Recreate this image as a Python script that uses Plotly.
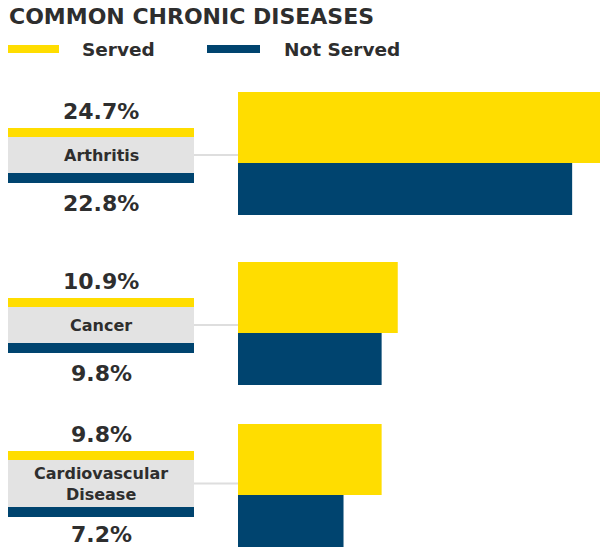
import plotly.graph_objects as go

# ---- data ----
categories = ["Arthritis", "Cancer", "Cardiovascular<br>Disease"]
served = [24.7, 10.9, 9.8]
not_served = [22.8, 9.8, 7.2]
series_names = ["Served", "Not Served"]
title_text = "COMMON CHRONIC DISEASES"

# ---- style / layout constants ----
W, H = 600, 548
YELLOW = "#FFDD00"
NAVY = "#00446F"
GRAY_BOX = "#E3E3E3"
LINE_GRAY = "#DEDEDE"
TEXT = "#2E2E2E"
FONT = "DejaVu Sans"

bar_left_px = 238
bar_top = [92, 262, 424]
yellow_h = 71
navy_h = 52
strip_top = [128, 298, 451]
strip_h = 9
gray_h = [36, 36, 47]
box_x0, box_x1 = 8, 194

# x axis: 0 at bar_left_px, max served reaches right edge
xmax = max(served)
scale = (W - bar_left_px) / xmax
x_range = [-bar_left_px / scale, xmax]

fig = go.Figure()
fig.add_trace(go.Bar(
    x=served, y=[t + yellow_h / 2 for t in bar_top], width=[yellow_h] * len(served),
    orientation="h", marker=dict(color=YELLOW, line=dict(width=0)), name=series_names[0],
    hoverinfo="skip"))
fig.add_trace(go.Bar(
    x=not_served, y=[t + yellow_h + navy_h / 2 for t in bar_top], width=[navy_h] * len(not_served),
    orientation="h", marker=dict(color=NAVY, line=dict(width=0)), name=series_names[1],
    hoverinfo="skip"))

shapes = []
annotations = []

# title
annotations.append(dict(x=7 / W, y=16, xref="paper", yref="y", text=title_text, showarrow=False,
                        xanchor="left", yanchor="middle",
                        font=dict(family=FONT, size=22, color=TEXT, weight="bold")))
# legend
for x0, x1, col, tx, name in [(8, 59, YELLOW, 80, series_names[0]), (207, 260, NAVY, 282, series_names[1])]:
    shapes.append(dict(type="rect", xref="paper", yref="y", x0=x0 / W, x1=x1 / W, y0=45, y1=53,
                       fillcolor=col, line=dict(width=0), layer="above"))
    annotations.append(dict(x=tx / W, y=49, xref="paper", yref="y", text=name, showarrow=False,
                            xanchor="left", yanchor="middle",
                            font=dict(family=FONT, size=18.5, color=TEXT, weight="bold")))

cx = (box_x0 + box_x1) / 2 / W
for i, cat in enumerate(categories):
    st = strip_top[i]
    g0 = st + strip_h
    g1 = g0 + gray_h[i]
    # yellow strip
    shapes.append(dict(type="rect", xref="paper", yref="y", x0=box_x0 / W, x1=box_x1 / W,
                       y0=st, y1=g0, fillcolor=YELLOW, line=dict(width=0)))
    # gray box
    shapes.append(dict(type="rect", xref="paper", yref="y", x0=box_x0 / W, x1=box_x1 / W,
                       y0=g0, y1=g1, fillcolor=GRAY_BOX, line=dict(width=0)))
    # navy strip
    shapes.append(dict(type="rect", xref="paper", yref="y", x0=box_x0 / W, x1=box_x1 / W,
                       y0=g1, y1=g1 + 10, fillcolor=NAVY, line=dict(width=0)))
    # connector
    cy = (g0 + g1) / 2
    shapes.append(dict(type="line", xref="paper", yref="y", x0=box_x1 / W, x1=bar_left_px / W,
                       y0=cy, y1=cy, line=dict(color=LINE_GRAY, width=2)))
    # category label
    annotations.append(dict(x=cx, y=cy, xref="paper", yref="y", text=cat, showarrow=False,
                            xanchor="center", yanchor="middle",
                            font=dict(family=FONT, size=16, color=TEXT, weight="bold")))
    # value labels
    annotations.append(dict(x=cx, y=st - 17, xref="paper", yref="y", text=f"{served[i]}%",
                            showarrow=False, xanchor="center", yanchor="middle",
                            font=dict(family=FONT, size=22, color=TEXT, weight="bold")))
    annotations.append(dict(x=cx, y=min(g1 + 10 + 20, H - 14), xref="paper", yref="y",
                            text=f"{not_served[i]}%",
                            showarrow=False, xanchor="center", yanchor="middle",
                            font=dict(family=FONT, size=22, color=TEXT, weight="bold")))

fig.update_layout(
    width=W, height=H, margin=dict(l=0, r=0, t=0, b=0),
    paper_bgcolor="white", plot_bgcolor="white",
    barmode="overlay", showlegend=False,
    xaxis=dict(range=x_range, visible=False, fixedrange=True),
    yaxis=dict(range=[H, 0], visible=False, fixedrange=True),
    shapes=shapes, annotations=annotations,
)

fig.write_html("out.html")
